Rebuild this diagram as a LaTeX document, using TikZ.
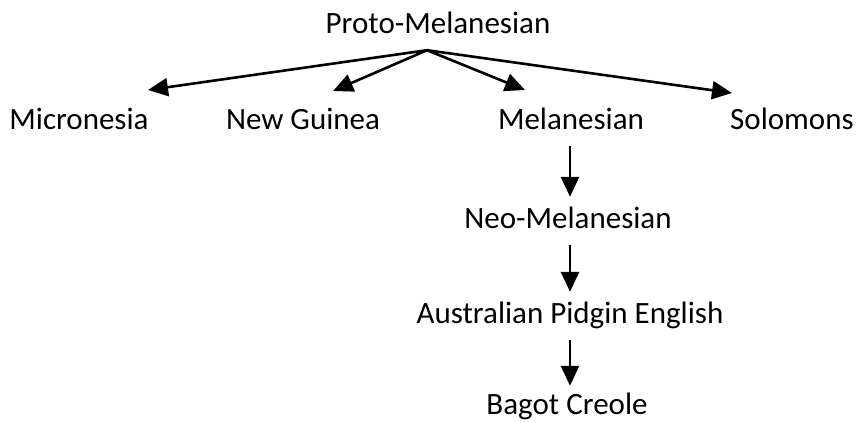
\documentclass[tikz,border=0pt]{standalone}
\usepackage{fontspec}
\setmainfont{Carlito}
\usetikzlibrary{arrows.meta, positioning, calc}

\tikzset{
  lang/.style={inner sep=0pt, anchor=base, text height=19pt, text depth=0pt,
               font=\fontsize{31}{35}\selectfont},
  arr/.style={line width=2.6pt, -{Triangle[length=20pt, width=18pt]}},
  vstep/.style={arr, shorten <=17pt, shorten >=12pt}
}

\begin{document}
\begin{tikzpicture}[x=1pt, y=-1pt]
  \useasboundingbox (0,0) rectangle (857,423);

  %% Languages
  \node[lang] (proto) at (438,33)  {Proto-Melanesian};
  \node[lang] (micro) at (79,129)  {Micronesia};
  \node[lang] (guinea) at (303,129) {New Guinea};
  \node[lang] (mel)   at (571,129) {Melanesian};
  \node[lang] (solo)  at (792,129) {Solomons};
  \node[lang] (neo)   at (568,228) {Neo-Melanesian};
  \node[lang] (aus)   at (570,323) {Australian Pidgin English};
  \node[lang] (bagot) at (567,414) {Bagot Creole};

  %% Branch points
  \coordinate (fork) at ([xshift=-11pt, yshift=-17pt]proto.south);
  \coordinate (tipMicro)  at (148,90);
  \coordinate (tipGuinea) at (333,91);
  \coordinate (tipMel)    at (525,90);
  \coordinate (tipSolo)   at (732,93);

  \foreach \t in {tipMicro, tipGuinea, tipMel, tipSolo} {
    \draw[arr] (fork) -- (\t);
  }

  %% Descent chain
  \draw[vstep] (mel.south -| aus) -- (neo.north -| aus);
  \draw[vstep] (neo.south -| aus) -- (aus.north);
  \draw[vstep, shorten >=9pt] (aus.south) -- (bagot.north -| aus);
\end{tikzpicture}
\end{document}
